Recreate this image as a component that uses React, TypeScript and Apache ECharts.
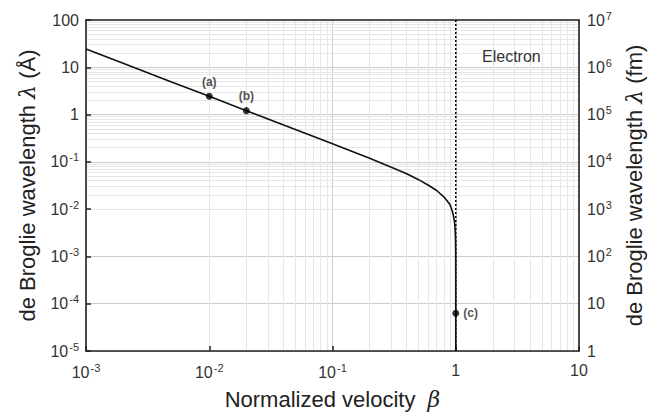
import React, { useEffect, useRef } from "react";
import * as echarts from "echarts";

// Normalized velocity beta
const betaValues = [
  0.001, 0.002, 0.005, 0.01, 0.02, 0.05, 0.1, 0.2, 0.3, 0.4, 0.5, 0.6, 0.7,
  0.8, 0.85, 0.9, 0.93, 0.95, 0.97, 0.98, 0.99, 0.995, 0.999, 0.9999, 0.99999,
  1.0, 1.0,
];
// de Broglie wavelength in Å
const lambdaValues = [
  24.3, 12.1, 4.85, 2.43, 1.21, 0.485, 0.241, 0.119, 0.077, 0.056, 0.042,
  0.032, 0.0248, 0.0182, 0.0151, 0.0124, 0.0096, 0.008, 0.0061, 0.005, 0.0034,
  0.0024, 0.00108, 0.00034, 0.00011, 0.000063, 0.00001,
];

// Marked points
const markedBeta = [0.01, 0.02, 1.0];
const markedLambda = [2.43, 1.21, 0.000063];
const markedLabels = ["(a)", "(b)", "(c)"];

// Tick labels
const xTickLabels = ["10{sup|-3}", "10{sup|-2}", "10{sup|-1}", "1", "10"];
const leftTickLabels = [
  "10{sup|-5}", "10{sup|-4}", "10{sup|-3}", "10{sup|-2}", "10{sup|-1}", "1", "10", "100",
];
const rightTickLabels = [
  "1", "10", "10{sup|2}", "10{sup|3}", "10{sup|4}", "10{sup|5}", "10{sup|6}", "10{sup|7}",
];

const xDecades = [0.001, 0.01, 0.1, 1];
const yDecades = [0.00001, 0.0001, 0.001, 0.01, 0.1, 1, 10];
const minorMultipliers = [2, 3, 4, 5, 6, 7, 8, 9];

const font = "Liberation Sans, Arial, sans-serif";
const labelRich = {
  sup: { fontSize: 11, color: "#333", padding: [0, 0, 9, 1], fontFamily: font },
};
const nameStyle = {
  fontSize: 22,
  color: "#222",
  fontFamily: font,
  rich: { i: { fontSize: 22, fontStyle: "italic", color: "#222", fontFamily: "DejaVu Serif, serif" } },
};

export default function App() {
  const ref = useRef<HTMLDivElement>(null);
  useEffect(() => {
    if (!ref.current) return;
    const chart = echarts.init(ref.current, undefined, { renderer: "svg" });
    const minorX: any[] = [];
    xDecades.forEach((d) => minorMultipliers.forEach((m) => minorX.push({ xAxis: m * d })));
    const minorY: any[] = [];
    yDecades.forEach((d) => minorMultipliers.forEach((m) => minorY.push({ yAxis: m * d })));

    const axisLineStyle = { color: "#222", width: 1.6 };

    chart.setOption({
      animation: false,
      textStyle: { fontFamily: font },
      grid: { left: 86, right: 72, top: 20, bottom: 58 },
      xAxis: [
        {
          type: "log",
          logBase: 10,
          min: 0.001,
          max: 10,
          position: "bottom",
          name: "Normalized velocity  {i|β}",
          nameLocation: "middle",
          nameGap: 37,
          nameTextStyle: nameStyle,
          axisLine: { show: true, lineStyle: axisLineStyle },
          axisTick: { show: true, inside: true, length: 5, lineStyle: { color: "#222", width: 1.5 } },
          axisLabel: {
            fontSize: 16,
            color: "#333",
            margin: 11,
            formatter: (v: number) => xTickLabels[Math.round(Math.log10(v)) + 3],
            rich: labelRich,
          },
          splitLine: { show: true, lineStyle: { color: "#cccccc", width: 1 } },
        },
        {
          type: "log",
          logBase: 10,
          min: 0.001,
          max: 10,
          position: "top",
          axisLine: { show: true, lineStyle: axisLineStyle },
          axisTick: { show: false },
          axisLabel: { show: false },
          splitLine: { show: false },
        },
      ],
      yAxis: [
        {
          type: "log",
          logBase: 10,
          min: 0.00001,
          max: 100,
          position: "left",
          name: "de Broglie wavelength {i|λ} (Å)",
          nameLocation: "middle",
          nameGap: 48,
          nameTextStyle: nameStyle,
          axisLine: { show: true, lineStyle: axisLineStyle },
          axisTick: { show: true, inside: true, length: 5, lineStyle: { color: "#222", width: 1.5 } },
          axisLabel: {
            fontSize: 16,
            color: "#333",
            margin: 7,
            formatter: (v: number) => leftTickLabels[Math.round(Math.log10(v)) + 5],
            rich: labelRich,
          },
          splitLine: { show: true, lineStyle: { color: "#cccccc", width: 1 } },
        },
        {
          type: "log",
          logBase: 10,
          min: 1,
          max: 10000000,
          position: "right",
          name: "de Broglie wavelength {i|λ} (fm)",
          nameLocation: "middle",
          nameGap: 44,
          nameRotate: 90,
          nameTextStyle: nameStyle,
          axisLine: { show: true, lineStyle: axisLineStyle },
          axisTick: { show: false },
          axisLabel: {
            fontSize: 16,
            color: "#333",
            margin: 8,
            formatter: (v: number) => rightTickLabels[Math.round(Math.log10(v))],
            rich: labelRich,
          },
          splitLine: { show: false },
        },
      ],
      graphic: [
        {
          type: "text",
          left: 482,
          top: 48,
          z: 10,
          style: { text: "Electron", fontSize: 16, fill: "#333", fontFamily: font },
        },
      ],
      series: [
        {
          type: "line",
          xAxisIndex: 0,
          yAxisIndex: 0,
          data: [],
          z: 0,
          silent: true,
          markLine: {
            silent: true,
            z: 0,
            symbol: "none",
            label: { show: false },
            lineStyle: { color: "#e6e6e6", width: 1, type: "solid" },
            emphasis: { disabled: true },
            data: [...minorX, ...minorY],
          },
        },
        {
          type: "line",
          xAxisIndex: 0,
          yAxisIndex: 0,
          data: [[1, 100], [1, 0.00001]],
          symbol: "none",
          z: 2,
          lineStyle: { color: "#000", width: 1.5, type: [2, 2] },
        },
        {
          type: "line",
          xAxisIndex: 0,
          yAxisIndex: 0,
          data: betaValues.map((b, i) => [b, lambdaValues[i]]),
          symbol: "none",
          z: 3,
          lineStyle: { color: "#111", width: 1.6 },
        },
        {
          type: "scatter",
          xAxisIndex: 0,
          yAxisIndex: 0,
          z: 4,
          symbolSize: 7,
          itemStyle: { color: "#000" },
          data: markedBeta.map((b, i) => ({
            value: [b, markedLambda[i]],
            label: {
              show: true,
              formatter: markedLabels[i],
              position: i === 2 ? "right" : "top",
              distance: i === 2 ? 4 : 5,
              fontSize: 12,
              fontWeight: "bold",
              color: "#222",
              fontFamily: font,
            },
          })),
        },
      ],
    });
    return () => chart.dispose();
  }, []);
  return (
    <div
      ref={ref}
      style={{ position: "fixed", left: 0, top: 0, width: 653, height: 415, background: "#fff" }}
    />
  );
}
